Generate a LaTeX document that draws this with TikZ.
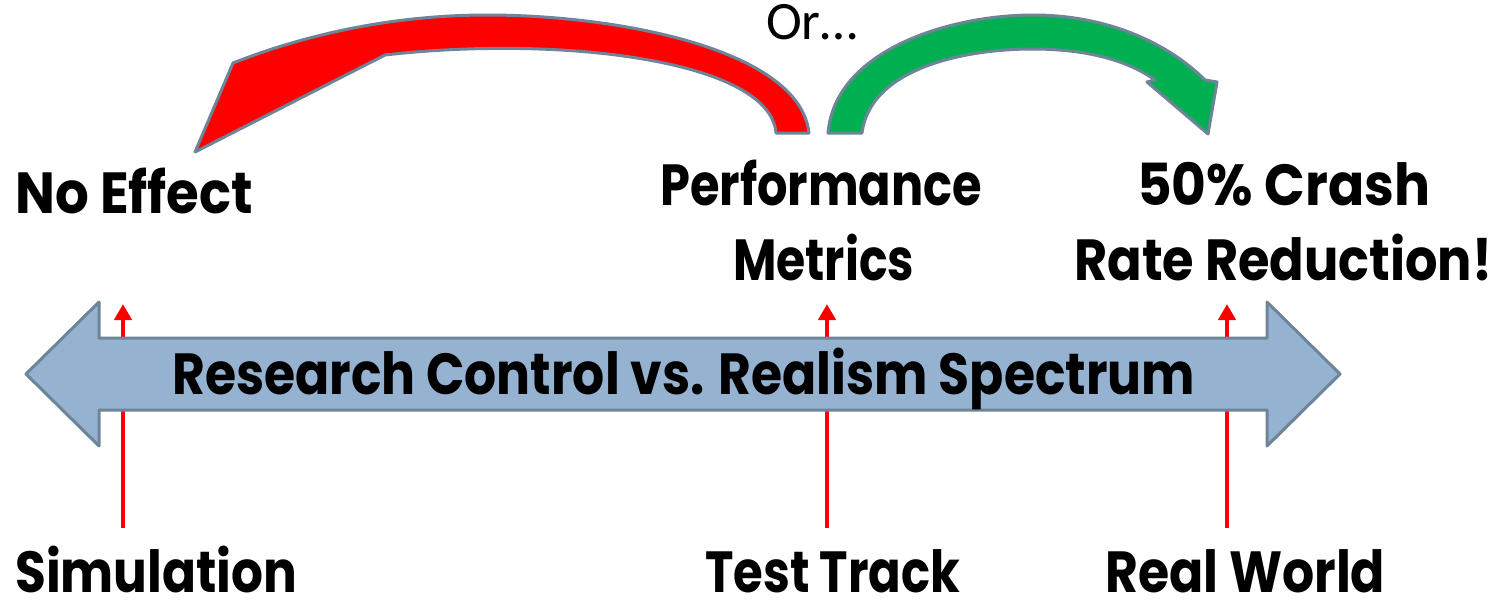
\documentclass[tikz,border=0pt]{standalone}
\usepackage{fontspec}
\usepackage{graphicx}
\newfontfamily\popfont{Poppins}
\newfontfamily\carlfont{Carlito}
\usetikzlibrary{arrows.meta}
\definecolor{specfill}{RGB}{149,179,209}
\definecolor{edgegray}{RGB}{110,132,152}
\definecolor{goodgreen}{RGB}{0,176,80}
\newcommand\fitw[2]{\resizebox{#1}{\height}{#2}}
\begin{document}
\begin{tikzpicture}[x=1pt,y=-1pt,
  lbl/.style={anchor=base west, inner sep=0pt, font=\popfont\bfseries\fontsize{58}{60}\selectfont},
  marker/.style={draw=red, line width=4pt, -{Triangle[length=16pt,width=17pt]}},
  shape edge/.style={draw=edgegray, line width=3pt, line join=round}]
\fill[white] (0,0) rectangle (1503,603);
\useasboundingbox (0,0) rectangle (1503,603);

% red markers (behind the spectrum arrow)
\coordinate (s1) at (123,528); \coordinate (t1) at (123,304);
\coordinate (s2) at (827,528); \coordinate (t2) at (827,304);
\coordinate (s3) at (1227,528); \coordinate (t3) at (1227,304);
\draw[marker] (s1) -- (t1);
\draw[marker] (s2) -- (t2);
\draw[marker] (s3) -- (t3);

% spectrum double arrow
\path[shape edge, fill=specfill] (26,374) -- (99,302) -- (99,338) -- (1267,338) -- (1267,302)
  -- (1340,374) -- (1267,446) -- (1267,410) -- (99,410) -- (99,446) -- cycle;

% red curved arrow
\path[shape edge, fill=red] (776,133) -- (809,133)
  .. controls (800,50) and (620,15) .. (487,15)
  .. controls (420,15) and (330,25) .. (233,63)
  -- (195,152) -- (385,55)
  .. controls (560,35) and (770,60) .. (776,133) -- cycle;

% green curved arrow
\path[shape edge, fill=goodgreen] (828,133)
  .. controls (835,50) and (950,15) .. (1033,15)
  .. controls (1110,15) and (1170,45) .. (1205,80)
  -- (1217,82) -- (1208,134) -- (1147,82) -- (1155,80)
  .. controls (1130,62) and (1090,49) .. (1033,49)
  .. controls (960,49) and (870,70) .. (862,133) -- cycle;

% labels
\node[lbl] (noeff) at (15,213) {\fitw{238pt}{No Effect}};
\node[lbl] (perf) at (660,205) {\fitw{322pt}{Performance}};
\node[lbl] (metr) at (733,280) {\fitw{181pt}{Metrics}};
\node[lbl] (crash) at (1137,205) {\fitw{293pt}{50\% Crash}};
\node[lbl] (rate) at (1074,280) {\fitw{418pt}{Rate Reduction!}};
\node[lbl] (spec) at (172,394) {\fitw{1023pt}{Research Control vs. Realism Spectrum}};
\node[lbl] (sim) at (15,592) {\fitw{282pt}{Simulation}};
\node[lbl] (tt) at (705,592) {\fitw{255pt}{Test Track}};
\node[lbl] (rw) at (1105,592) {\fitw{280pt}{Real World}};
\node[anchor=base west, inner sep=0pt, font=\carlfont\fontsize{54}{56}\selectfont] (or) at (766,39) {Or…};
\end{tikzpicture}
\end{document}
